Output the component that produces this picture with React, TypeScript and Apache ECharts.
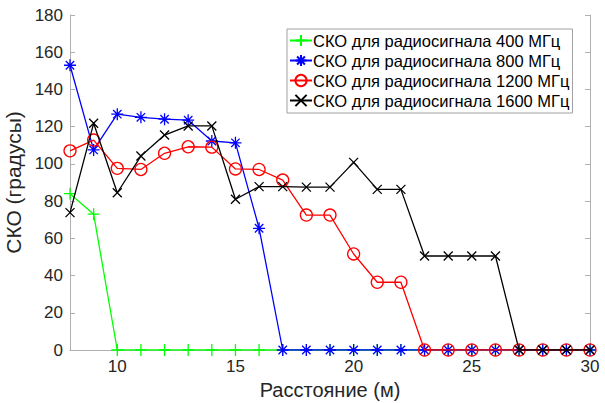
import React, { useEffect, useRef } from "react";
import * as echarts from "echarts";

const distances = [8, 9, 10, 11, 12, 13, 14, 15, 16, 17, 18, 19, 20, 21, 22, 23, 24, 25, 26, 27, 28, 29, 30];
const sko400 = [84, 73, 0, 0, 0, 0, 0, 0, 0, 0, 0, 0, 0, 0, 0, 0, 0, 0, 0, 0, 0, 0, 0];
const sko800 = [153, 107.5, 126.7, 125, 124, 123.5, 112.3, 111.3, 65.4, 0, 0, 0, 0, 0, 0, 0, 0, 0, 0, 0, 0, 0, 0];
const sko1200 = [107, 112.8, 97.6, 97, 105.7, 109.2, 109, 97.3, 97, 91.3, 72.5, 72.5, 51.6, 36.4, 36.4, 0, 0, 0, 0, 0, 0, 0, 0];
const sko1600 = [73.8, 121.8, 84.5, 104.2, 115.5, 120.4, 120.4, 81, 87.8, 87.8, 87.5, 87.5, 100.8, 86.3, 86.3, 50.5, 50.5, 50.5, 50.5, 0, 0, 0, 0];
const seriesNames = [
  "СКО для радиосигнала 400 МГц",
  "СКО для радиосигнала 800 МГц",
  "СКО для радиосигнала 1200 МГц",
  "СКО для радиосигнала 1600 МГц",
];
const xTicks = [10, 15, 20, 25, 30];

const PLUS = "path://M5 0L5 10M0 5L10 5";
const STAR = "path://M5 0L5 10M0 5L10 5M1.5 1.5L8.5 8.5M8.5 1.5L1.5 8.5";
const CROSS = "path://M0 0L10 10M10 0L0 10";

export default function App() {
  const ref = useRef<HTMLDivElement>(null);
  useEffect(() => {
    const chart = echarts.init(ref.current!, null, { renderer: "svg" });
    const font = "'Liberation Sans', Arial, sans-serif";
    const axisColor = "#b0b0b0";
    const textColor = "#262626";
    const mk = (name: string, vals: number[], color: string, symbol: string, size: number, z: number) => ({
      name,
      type: "line",
      data: distances.map((d, i) => [d, vals[i]]),
      symbol,
      symbolSize: size,
      showAllSymbol: true,
      z,
      lineStyle: { color, width: 1.3 },
      itemStyle: { color: "none", borderColor: color, borderWidth: 1.3 },
      emphasis: { disabled: true },
    });
    chart.setOption({
      animation: false,
      textStyle: { fontFamily: font },
      grid: { left: 70, right: 15, top: 15, bottom: 53, containLabel: false, outerBoundsMode: "none" },
      legend: {
        orient: "vertical",
        left: 287,
        top: 29,
        data: seriesNames,
        itemWidth: 22,
        itemHeight: 14,
        itemGap: 3,
        padding: [3, 3, 4, 2],
        borderColor: "#a0a0a0",
        borderWidth: 1,
        backgroundColor: "#fff",
        textStyle: { fontFamily: font, fontSize: 16.5, lineHeight: 14, color: "#000", padding: [0, 0, 0, -4] },
      },
      xAxis: [
        {
          type: "value",
          min: 8,
          max: 30,
          name: "Расстояние (м)",
          nameLocation: "middle",
          nameGap: 30,
          nameTextStyle: { fontFamily: font, fontSize: 20, color: textColor },
          axisLine: { show: true, lineStyle: { color: axisColor, width: 1 } },
          axisTick: { show: true, inside: true, length: 5, customValues: xTicks, lineStyle: { color: axisColor } },
          axisLabel: { show: true, customValues: xTicks, fontSize: 17, color: textColor, margin: 8, fontFamily: font },
          splitLine: { show: false },
        },
        {
          type: "value",
          position: "top",
          min: 8,
          max: 30,
          axisLine: { show: true, lineStyle: { color: axisColor, width: 1 } },
          axisTick: { show: true, inside: true, length: 5, customValues: xTicks, lineStyle: { color: axisColor } },
          axisLabel: { show: false },
          splitLine: { show: false },
        },
      ],
      yAxis: [
        {
          type: "value",
          min: 0,
          max: 180,
          interval: 20,
          name: "СКО (градусы)",
          nameLocation: "middle",
          nameGap: 33,
          nameTextStyle: { fontFamily: font, fontSize: 21, color: textColor },
          axisLine: { show: true, lineStyle: { color: axisColor, width: 1 } },
          axisTick: { show: true, inside: true, length: 5, lineStyle: { color: axisColor } },
          axisLabel: { fontSize: 17, color: textColor, margin: 7, fontFamily: font },
          splitLine: { show: false },
        },
        {
          type: "value",
          position: "right",
          min: 0,
          max: 180,
          interval: 20,
          axisLine: { show: true, lineStyle: { color: axisColor, width: 1 } },
          axisTick: { show: true, inside: true, length: 5, lineStyle: { color: axisColor } },
          axisLabel: { show: false },
          splitLine: { show: false },
        },
      ],
      series: [
        mk(seriesNames[0], sko400, "#00ff00", PLUS, 12, 2),
        mk(seriesNames[1], sko800, "#0000ff", STAR, 12, 3),
        mk(seriesNames[2], sko1200, "#ff0000", "circle", 12, 4),
        mk(seriesNames[3], sko1600, "#000000", CROSS, 9, 5),
      ],
    });
    return () => chart.dispose();
  }, []);
  return <div ref={ref} style={{ width: 605, height: 403, position: "absolute", left: 0, top: 0, background: "#fff" }} />;
}
